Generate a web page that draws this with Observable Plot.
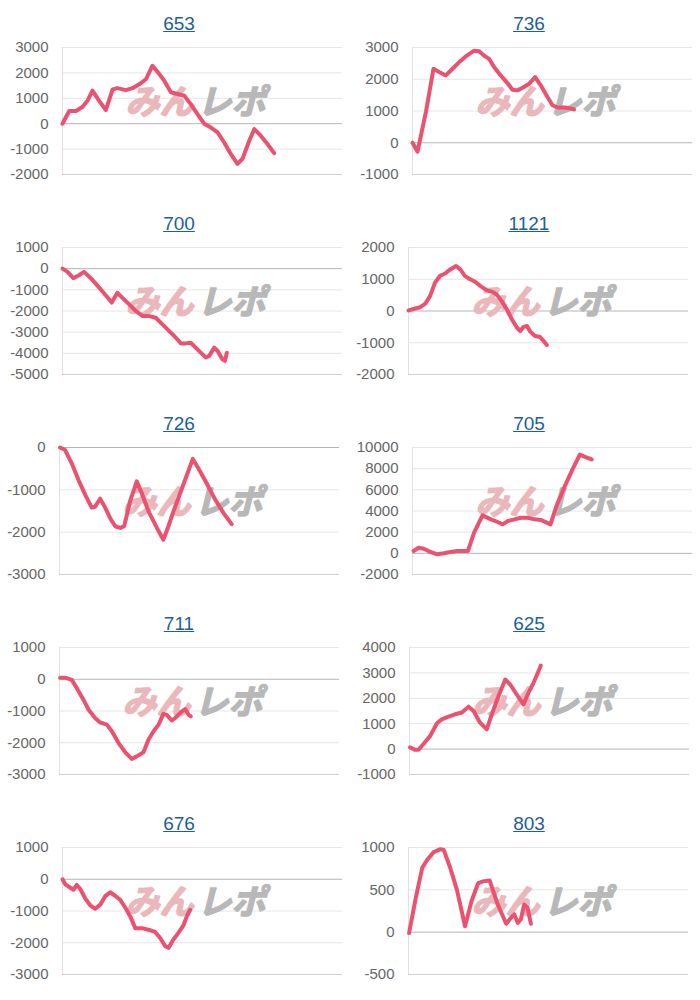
<!DOCTYPE html>
<html><head><meta charset="utf-8">
<script src="https://cdn.jsdelivr.net/npm/d3@7"></script>
<script src="https://cdn.jsdelivr.net/npm/@observablehq/plot@0.6"></script>
<style>
body{margin:0;background:#fff;font-family:"Liberation Sans",Arial,sans-serif;}
#grid{display:grid;grid-template-columns:350px 350px;width:700px;}
.cell{width:350px;height:200px;overflow:hidden;}
.title{height:40px;box-sizing:border-box;padding-top:13px;padding-left:8px;text-align:center;font-size:19px;line-height:22px;}
.title a{color:#1d5e9c;text-decoration:underline;}
svg{display:block;}
</style></head><body><div id="grid"></div>
<script>
// titles (machine numbers), in reading order
const titles = ["653","736","700","1121","726","705","711","625","676","803"];

// y-axis tick labels per chart
const ticks653 = [3000,2000,1000,0,-1000,-2000];
const ticks736 = [3000,2000,1000,0,-1000];
const ticks700 = [1000,0,-1000,-2000,-3000,-4000,-5000];
const ticks1121 = [2000,1000,0,-1000,-2000];
const ticks726 = [0,-1000,-2000,-3000];
const ticks705 = [10000,8000,6000,4000,2000,0,-2000];
const ticks711 = [1000,0,-1000,-2000,-3000];
const ticks625 = [4000,3000,2000,1000,0,-1000];
const ticks676 = [1000,0,-1000,-2000,-3000];
const ticks803 = [1000,500,0,-500];

// series: [progress (0-100 of x range), difference]
const s653 = [[0,0],[2.4,500],[4.8,500],[7.1,660],[8.9,900],[10.7,1300],[13.1,900],[15.5,540],[17.9,1350],[19.6,1400],[22.6,1320],[25,1400],[27.4,1550],[29.8,1750],[32.1,2280],[33.9,2050],[36.3,1700],[38.7,1240],[41.1,1170],[43.5,1100],[45.8,770],[48.2,380],[50.6,0],[53,-150],[55.4,-340],[57.7,-730],[60.1,-1190],[62.5,-1580],[64.3,-1380],[66.7,-670],[68.5,-210],[70.8,-470],[73.2,-800],[75.6,-1160]];
const s736 = [[0,0],[1.8,-280],[4.8,970],[7.5,2330],[9.5,2230],[11.9,2120],[14.3,2330],[16.7,2540],[19,2720],[22,2900],[23.8,2880],[25.6,2740],[27.4,2640],[29.2,2380],[31.5,2120],[33.9,1880],[35.7,1670],[37.5,1650],[39.3,1730],[41.7,1860],[43.8,2070],[45.8,1810],[48.2,1440],[50,1180],[51.8,1110],[54.2,1110],[56.5,1080],[57.7,1050]];
const s700 = [[0,0],[1.8,-150],[3.9,-450],[6,-300],[7.7,-150],[10.1,-450],[12.5,-800],[14.9,-1170],[17.6,-1600],[19.6,-1140],[21.4,-1380],[23.8,-1690],[26.2,-2000],[28.6,-2240],[31,-2240],[33.3,-2320],[35.7,-2630],[38.1,-2950],[39.9,-3180],[42.3,-3530],[44,-3530],[45.8,-3500],[48.2,-3810],[51.2,-4200],[52.4,-4120],[54.2,-3730],[55.4,-3890],[57.1,-4280],[58,-4360],[58.7,-3970]];
const s1121 = [[0,20],[2.4,80],[4.2,120],[6,230],[7.7,470],[9.5,900],[11.3,1110],[13.1,1180],[14.9,1310],[17,1420],[18.5,1310],[20.2,1100],[22,1000],[23.8,920],[25.6,790],[28,650],[29.8,610],[31.5,520],[33.3,310],[35.1,50],[36.9,-260],[38.7,-520],[39.9,-630],[41.1,-500],[42.3,-470],[43.5,-650],[45.2,-790],[47,-820],[48.2,-940],[49.4,-1070]];
const s726 = [[0.2,0],[2,-60],[4.4,-380],[6.8,-770],[9.2,-1120],[11.5,-1420],[12.7,-1400],[14.5,-1210],[16.3,-1420],[18.1,-1670],[19.9,-1860],[21.7,-1900],[23.1,-1860],[25.2,-1270],[27.6,-800],[29.4,-1080],[31.8,-1510],[34.8,-1900],[37.1,-2180],[38.9,-1860],[40.7,-1510],[43.1,-1080],[45.5,-650],[47.6,-270],[49.6,-490],[52.6,-850],[55.6,-1230],[58.6,-1550],[61.5,-1810]];
const s705 = [[0.4,220],[2.2,530],[4,440],[6.4,130],[8.8,-90],[11.2,0],[13.6,130],[16,220],[18.4,220],[19.8,220],[22,1950],[25,3590],[28,3210],[30.4,2960],[32.2,2740],[34,3050],[36.4,3210],[38.8,3360],[41.2,3360],[43.6,3210],[46,3140],[49.3,2740],[51.4,4470],[54.4,6350],[57.4,8080],[59.8,9340],[61.6,9120],[64,8870]];
const s711 = [[0.2,50],[2,50],[4.4,-20],[6.2,-280],[8.6,-650],[10.4,-960],[12.7,-1220],[14.5,-1360],[16.9,-1430],[18.7,-1640],[21.1,-2010],[23.5,-2300],[25.8,-2510],[27.6,-2430],[30,-2300],[31.8,-1900],[33.6,-1640],[35.4,-1430],[37.1,-1090],[38.3,-1120],[40.1,-1300],[41.3,-1220],[43.7,-1010],[44.9,-940],[46.1,-1120],[46.9,-1170]];
const s625 = [[0.2,70],[2,-30],[3.2,-30],[5,200],[7.4,520],[9.8,1020],[11.5,1170],[13.9,1280],[16.3,1370],[18.7,1440],[21.1,1670],[22.9,1500],[25.2,1040],[27.6,780],[29.4,1370],[31.8,2090],[34.2,2740],[36,2540],[38.3,2150],[40.7,1760],[42.5,2220],[44.3,2610],[46.1,3070],[46.9,3290]];
const s676 = [[0,0],[1,-160],[2.7,-260],[3.9,-330],[5.1,-180],[6.3,-300],[8.1,-600],[9.9,-820],[11.7,-930],[13.5,-800],[15.2,-540],[17,-410],[18.8,-520],[20.6,-650],[22.4,-890],[24.2,-1170],[26,-1540],[28.3,-1540],[30.7,-1590],[33.1,-1660],[34.9,-1850],[36.7,-2110],[37.9,-2160],[39.6,-1900],[41.4,-1690],[43.2,-1450],[44.4,-1170],[45.6,-960]];
const s803 = [[0.2,-10],[2.6,405],[4.9,760],[6.7,855],[9,945],[11.4,980],[12.6,970],[14.9,760],[17.3,500],[20.2,70],[22.5,365],[24.9,580],[26.6,600],[29,610],[31.9,325],[34.9,100],[36.6,170],[37.8,210],[39,110],[40.1,150],[41.3,325],[42.5,290],[43.7,100]];

const seriesList = [s653,s736,s700,s1121,s726,s705,s711,s625,s676,s803];
const tickList = [ticks653,ticks736,ticks700,ticks1121,ticks726,ticks705,ticks711,ticks625,ticks676,ticks803];
const leftMargins = [62,62,62,58,59,62,59,59,62,58];

const wm = {frameAnchor: "middle", dy: -8, fontSize: 34, fontWeight: "bold", fontStyle: "italic", fontFamily: "'Noto Sans CJK JP'", strokeWidth: 1.6};

const grid = document.getElementById("grid");
titles.forEach((t, i) => {
  const cell = document.createElement("div");
  cell.className = "cell";
  const title = document.createElement("div");
  title.className = "title";
  const a = document.createElement("a");
  a.textContent = t;
  title.appendChild(a);
  cell.appendChild(title);
  const ticks = tickList[i];
  const ymin = d3.min(ticks), ymax = d3.max(ticks);
  const data = seriesList[i].map(([x, y]) => ({x, y}));
  const L = leftMargins[i];
  const chart = Plot.plot({
    width: 350,
    height: 160,
    marginTop: 7,
    marginBottom: 26,
    marginLeft: L,
    marginRight: 350 - L - 280,
    style: {fontFamily: "'Liberation Sans', Arial, sans-serif", background: "#fff", overflow: "visible"},
    x: {domain: [0, 100], axis: null},
    y: {domain: [ymin, ymax], axis: null},
    marks: [
      Plot.ruleY(ticks.filter(v => v !== 0 && v !== ymin), {stroke: "#e6e6e6", strokeWidth: 1}),
      Plot.ruleX([0], {stroke: "#e0e0e0", strokeWidth: 1}),
      Plot.ruleY([ymin], {stroke: "#cfcfcf", strokeWidth: 1}),
      Plot.ruleY([0], {stroke: "#b5b5b5", strokeWidth: 1}),
      Plot.axisY({ticks, label: null, tickSize: 0, tickPadding: 14, tickFormat: d => String(d), fontSize: 15, color: "#666"}),
      Plot.text(["みん"], {...wm, text: d => d, textAnchor: "end", dx: -9, fill: "#eab7bb", stroke: "#eab7bb"}),
      Plot.text(["レポ"], {...wm, text: d => d, textAnchor: "start", dx: -5, fill: "#b8b8b8", stroke: "#b8b8b8"}),
      Plot.line(data, {x: "x", y: "y", stroke: "#ea5270", strokeWidth: 4, strokeLinejoin: "round", strokeLinecap: "round"})
    ]
  });
  cell.appendChild(chart);
  grid.appendChild(cell);
});
</script></body></html>
